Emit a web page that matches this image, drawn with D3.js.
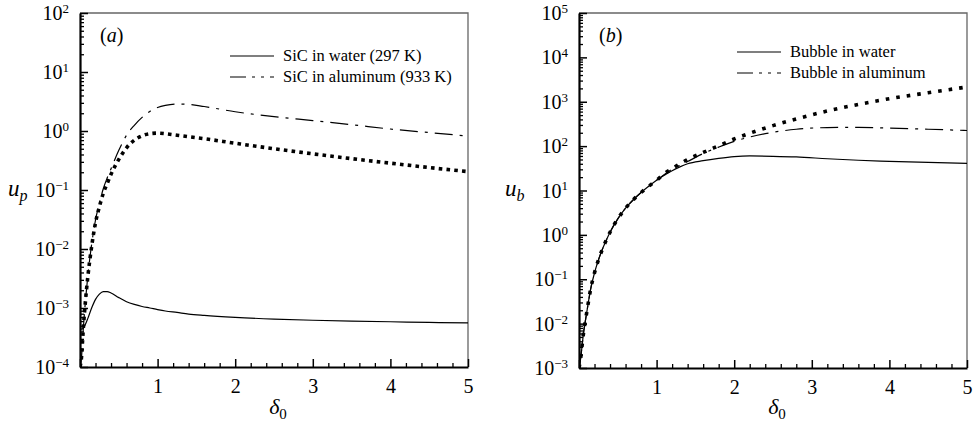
<!DOCTYPE html>
<html>
<head>
<meta charset="utf-8">
<script src="https://cdn.jsdelivr.net/npm/d3@7"></script>
<style>
  body { margin: 0; background: #fff; }
  svg { display: block; }
  text { font-family: "Liberation Serif", "Times New Roman", serif; fill: #000; }
</style>
</head>
<body>
<svg id="chart" width="977" height="431"></svg>
<script>
// ---------- Panel (a): particle velocity u_p versus delta_0 ----------
const deltaA = [0, 0.02, 0.04, 0.07, 0.1, 0.15, 0.2, 0.25, 0.3, 0.35, 0.4, 0.5, 0.6, 0.7,
  0.8, 0.9, 1.0, 1.1, 1.25, 1.4, 1.6, 2.0, 2.5, 3.0, 3.5, 4.0, 4.5, 5.0];
const upSiCWater = [4.6e-4, 4.4e-4, 4.5e-4, 5.3e-4, 6.6e-4, 1.0e-3, 1.4e-3, 1.72e-3, 1.9e-3,
  1.9e-3, 1.8e-3, 1.5e-3, 1.28e-3, 1.15e-3, 1.06e-3, 1.0e-3, 9.4e-4, 8.9e-4, 8.4e-4, 7.9e-4,
  7.5e-4, 6.95e-4, 6.5e-4, 6.2e-4, 6.0e-4, 5.85e-4, 5.7e-4, 5.6e-4];
const upSiCAluminum = [1e-4, 1.5e-4, 4e-4, 1.3e-3, 3.4e-3, 0.012, 0.031, 0.06, 0.105, 0.16,
  0.23, 0.47, 0.85, 1.25, 1.7, 2.15, 2.5, 2.72, 2.87, 2.83, 2.6, 2.12, 1.75, 1.5, 1.28, 1.08,
  0.94, 0.82];
const upSiCModel = [1e-4, 1.5e-4, 4e-4, 1.3e-3, 3.3e-3, 0.011, 0.028, 0.052, 0.088, 0.128,
  0.185, 0.33, 0.52, 0.7, 0.83, 0.9, 0.92, 0.9, 0.85, 0.8, 0.74, 0.62, 0.5, 0.41, 0.34, 0.285,
  0.24, 0.205];

// ---------- Panel (b): bubble velocity u_b versus delta_0 ----------
const deltaB = [0, 0.02, 0.04, 0.06, 0.08, 0.1, 0.15, 0.2, 0.25, 0.3, 0.35, 0.4, 0.5, 0.6,
  0.7, 0.8, 0.9, 1.0, 1.1, 1.2, 1.3, 1.4, 1.6, 1.8, 2.0, 2.2, 2.5, 2.8, 3.2, 3.6, 4.0, 4.5, 5.0];
const ubBubbleWater = [1e-3, 1.6e-3, 3.2e-3, 6.5e-3, 0.011, 0.018, 0.06, 0.14, 0.27, 0.47,
  0.75, 1.15, 2.3, 4.0, 6.2, 9.0, 12.5, 17, 22, 28, 34, 40, 47, 53, 58, 60, 59, 57, 52, 48,
  45.5, 43, 41];
const ubBubbleAluminum = [1e-3, 1.6e-3, 3.2e-3, 6.5e-3, 0.011, 0.018, 0.06, 0.14, 0.27, 0.47,
  0.75, 1.15, 2.3, 4.0, 6.2, 9.0, 12.5, 17, 23, 30, 37, 45, 68, 95, 128, 160, 205, 240, 262,
  265, 255, 240, 225];
const ubBubbleModel = [1e-3, 1.6e-3, 3.2e-3, 6.5e-3, 0.011, 0.018, 0.06, 0.14, 0.27, 0.47,
  0.75, 1.15, 2.3, 4.0, 6.2, 9.0, 12.5, 17, 24, 31, 40, 50, 72, 102, 145, 195, 290, 410, 620,
  870, 1170, 1600, 2150];

// ---------- Axis ticks ----------
const xMajorTicks = [0, 1, 2, 3, 4, 5];
const xMinorTicks = [0.2, 0.4, 0.6, 0.8, 1.2, 1.4, 1.6, 1.8, 2.2, 2.4, 2.6, 2.8,
  3.2, 3.4, 3.6, 3.8, 4.2, 4.4, 4.6, 4.8];
const yExponentsA = [-4, -3, -2, -1, 0, 1, 2];
const yExponentsB = [-3, -2, -1, 0, 1, 2, 3, 4, 5];

const legendA = ["SiC in water (297 K)", "SiC in aluminum (933 K)"];
const legendB = ["Bubble in water", "Bubble in aluminum"];

const svg = d3.select("#chart");
const DASHDOT = "18,7,3,7";

function drawPanel(opt) {
  const { left, right, top, bottom } = opt.box;
  const x = d3.scaleLinear().domain([0, 5]).range([left, right]);
  const exps = opt.exponents;
  const y = d3.scaleLog()
    .domain([Math.pow(10, exps[0]), Math.pow(10, exps[exps.length - 1])])
    .range([bottom, top]);

  const g = svg.append("g");
  const clipId = "clip-" + opt.tag;
  svg.append("clipPath").attr("id", clipId)
    .append("rect").attr("x", left).attr("y", top)
    .attr("width", right - left).attr("height", bottom - top);

  // frame: thin grey top and right edges
  g.append("path")
    .attr("d", `M${left},${top}H${right}V${bottom}`)
    .attr("fill", "none").attr("stroke", "#666").attr("stroke-width", 1.3);

  // curves
  const curves = g.append("g").attr("clip-path", `url(#${clipId})`);
  const line = d3.line().x(d => x(d[0])).y(d => y(d[1])).curve(d3.curveMonotoneX);
  opt.series.forEach(s => {
    curves.append("path")
      .datum(d3.zip(opt.delta, s.values))
      .attr("d", line)
      .attr("fill", "none")
      .attr("stroke", "#000")
      .attr("stroke-width", s.width)
      .attr("stroke-dasharray", s.dash || null);
  });

  // y axis: decades (long) and 2..9 (short) ticks pointing inward
  const majors = exps.map(e => Math.pow(10, e));
  const minors = [];
  exps.slice(0, -1).forEach(e => {
    for (let k = 2; k <= 9; k++) minors.push(k * Math.pow(10, e));
  });
  g.append("g").attr("transform", `translate(${left},0)`)
    .call(d3.axisLeft(y).tickValues(minors).tickSize(-4).tickSizeOuter(0).tickFormat(""))
    .call(a => a.select(".domain").remove())
    .call(a => a.selectAll("line").attr("stroke-width", 1.3));
  const yAxis = g.append("g").attr("transform", `translate(${left},0)`)
    .call(d3.axisLeft(y).tickValues(majors).tickSize(-8).tickSizeOuter(0).tickFormat(""));
  yAxis.select(".domain").attr("stroke-width", 2.2);
  yAxis.selectAll("line").attr("stroke-width", 1.5);
  yAxis.selectAll(".tick").each(function (d) {
    const e = Math.round(Math.log10(d));
    const t = d3.select(this).append("text")
      .attr("x", -11).attr("dy", "0.33em")
      .attr("text-anchor", "end")
      .style("font-size", "20px");
    t.append("tspan").text("10");
    t.append("tspan").attr("dy", "-0.55em").style("font-size", "13px")
      .text(e < 0 ? "\u2212" + Math.abs(e) : String(e));
  });

  // x axis
  g.append("g").attr("transform", `translate(0,${bottom})`)
    .call(d3.axisBottom(x).tickValues(xMinorTicks).tickSize(-4).tickSizeOuter(0).tickFormat(""))
    .call(a => a.select(".domain").remove())
    .call(a => a.selectAll("line").attr("stroke-width", 1.3));
  const xAxis = g.append("g").attr("transform", `translate(0,${bottom})`)
    .call(d3.axisBottom(x).tickValues(xMajorTicks).tickSize(-8).tickSizeOuter(0)
      .tickPadding(12).tickFormat(d => d === 0 ? "" : d3.format("d")(d)));
  xAxis.select(".domain").attr("stroke-width", 2.2);
  xAxis.selectAll("line").attr("stroke-width", 1.5);
  xAxis.selectAll("text").style("font-size", "20px").attr("fill", "#000");

  // axis titles
  const xt = g.append("text")
    .attr("x", (left + right) / 2 + 4).attr("y", 414)
    .attr("text-anchor", "middle").style("font-size", "22px");
  xt.append("tspan").style("font-style", "italic").text("\u03b4");
  xt.append("tspan").attr("dy", "0.3em").style("font-size", "15px").text("0");

  const yt = g.append("text")
    .attr("x", opt.ylabX).attr("y", 196)
    .style("font-size", "23px");
  yt.append("tspan").style("font-style", "italic").text("u");
  yt.append("tspan").attr("dy", "0.3em").style("font-size", "16px")
    .style("font-style", "italic").text(opt.ylabSub);

  // panel tag
  const tag = g.append("text").attr("x", left + 20).attr("y", 42).style("font-size", "20px");
  tag.append("tspan").text("(");
  tag.append("tspan").style("font-style", "italic").text(opt.tag);
  tag.append("tspan").text(")");

  // legend
  opt.legend.forEach((label, i) => {
    const ly = opt.legendPos.y + i * 21;
    g.append("line")
      .attr("x1", opt.legendPos.x).attr("x2", opt.legendPos.x + 44)
      .attr("y1", ly).attr("y2", ly)
      .attr("stroke", "#000").attr("stroke-width", 1.2)
      .attr("stroke-dasharray", i === 1 ? "16,6,3,6,3,6" : null);
    g.append("text")
      .attr("x", opt.legendPos.x + 53).attr("y", ly).attr("dy", "0.33em")
      .style("font-size", "16.5px").text(label);
  });
}

drawPanel({
  tag: "a",
  box: { left: 80, right: 468, top: 13, bottom: 367 },
  exponents: yExponentsA,
  delta: deltaA,
  series: [
    { values: upSiCWater, width: 1.2 },
    { values: upSiCAluminum, width: 1.2, dash: DASHDOT },
    { values: upSiCModel, width: 3.6, dash: "3.6,4.2" }
  ],
  legend: legendA,
  legendPos: { x: 230, y: 56 },
  ylabX: 8,
  ylabSub: "p"
});

drawPanel({
  tag: "b",
  box: { left: 579, right: 967, top: 13, bottom: 368 },
  exponents: yExponentsB,
  delta: deltaB,
  series: [
    { values: ubBubbleWater, width: 1.2 },
    { values: ubBubbleAluminum, width: 1.2, dash: DASHDOT },
    { values: ubBubbleModel, width: 3.6, dash: "3.6,7" }
  ],
  legend: legendB,
  legendPos: { x: 737, y: 52 },
  ylabX: 505,
  ylabSub: "b"
});
</script>
</body>
</html>
